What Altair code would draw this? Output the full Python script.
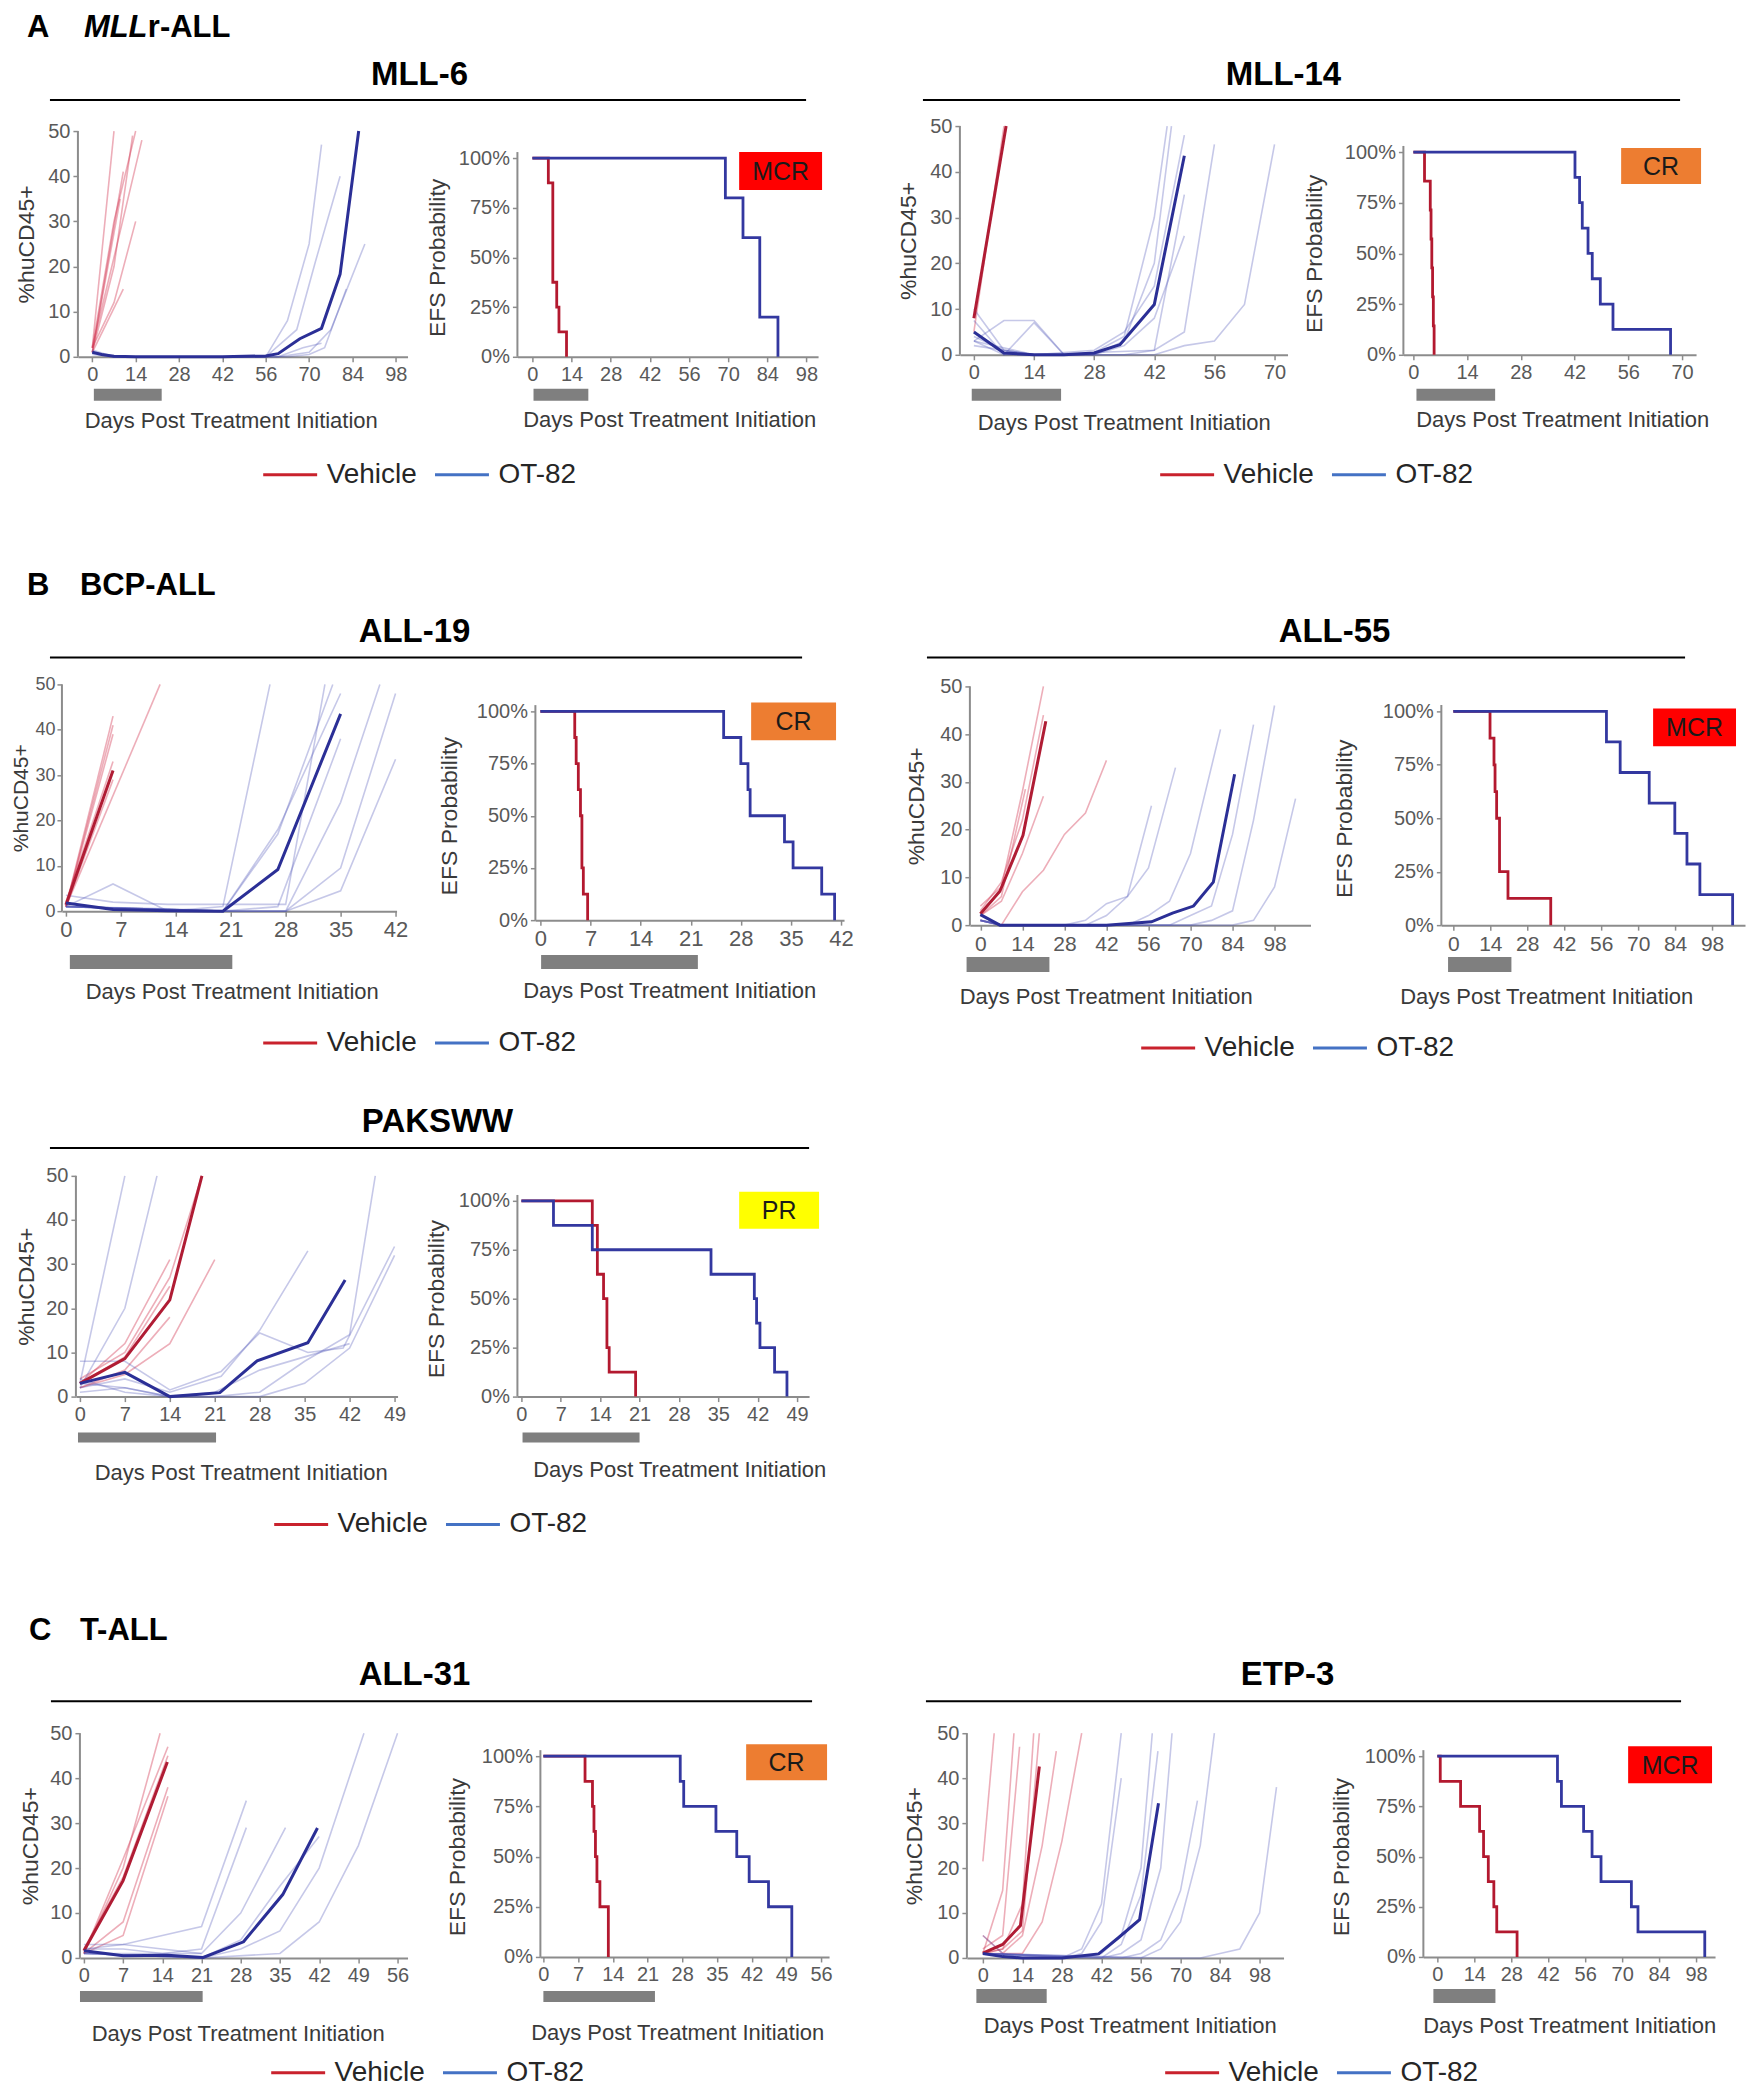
import altair as alt
import pandas as pd

# ---------------------------------------------------------------- data
# each line: list of [day, %huCD45+]; KM: list of [day, survival]
MLL6_VEH_FAINT = [
    [[0, 2], [7, 50]],
    [[0, 2], [7, 30], [14, 50]],
    [[0, 1], [7, 20], [13, 49]],
    [[0, 2], [7, 22], [16, 48]],
    [[0, 1], [10, 41]],
    [[0, 1], [9, 35]],
    [[0, 2], [7, 12], [14, 30]],
    [[0, 1], [10, 15]],
]
MLL6_VEH_BOLD = []
MLL6_OT_FAINT = [
    [[0, 1.5], [7, 0], [56, 0], [63, 8], [70, 25], [74, 47]],
    [[0, 1], [7, 0], [56, 0], [66, 6], [72, 21], [80, 40]],
    [[0, 1], [7, 0], [60, 0], [70, 1], [77, 6], [88, 25]],
    [[0, 1], [7, 0], [63, 0], [70, 0.5], [75, 2], [82, 15]],
    [[0, 0.5], [7, 0], [60, 0], [68, 2], [74, 3]],
]
MLL6_OT_BOLD = [[0, 1], [3, 0.5], [7, 0.1], [14, 0], [28, 0], [42, 0], [56, 0.2], [60, 0.7],
                [67, 4], [74, 6.3], [80, 18.3], [86, 50]]
MLL6_KM_VEH = [[0, 1], [5.7, 0.875], [7.3, 0.375], [8.7, 0.25], [9.5, 0.125], [12.2, 0]]
MLL6_KM_OT = [[0, 1], [69, 0.8], [75.3, 0.6], [81.3, 0.2], [87.8, 0]]
MLL6_TREAT_L = [0.5, 22.4]
MLL6_TREAT_K = [0.4, 20.0]

MLL14_VEH_FAINT = [[[0, 5], [7, 50]]]
MLL14_VEH_BOLD = [[0, 8], [7.5, 50]]
MLL14_OT_FAINT = [
    [[0, 3], [7, 7.5], [14, 7.5], [21, 0], [28, 0], [35, 3], [42, 20], [46, 50]],
    [[0, 7.5], [7, 0], [14, 7], [21, 0], [28, 0.5], [35, 4], [42, 30], [45, 50]],
    [[0, 10], [7, 1], [14, 0], [28, 1], [35, 5], [42, 15], [49, 48]],
    [[0, 4], [7, 1], [14, 0], [28, 0], [35, 2], [42, 8], [49, 26]],
    [[0, 3], [14, 0], [42, 0], [49, 2], [56, 3], [63, 11], [70, 46]],
    [[0, 2], [14, 0], [42, 1], [49, 5], [56, 46]],
    [[0, 3], [7, 0], [35, 0], [42, 1], [49, 35]],
]
MLL14_OT_BOLD = [[0, 5], [7, 0.4], [14, 0], [21, 0], [28, 0.4], [34, 2.2], [42, 11], [49, 43.5]]
MLL14_KM_VEH = [[0, 1], [2.9, 0.857], [4.4, 0.714], [4.6, 0.571], [4.8, 0.429], [5.0, 0.286],
                [5.2, 0.143], [5.4, 0]]
MLL14_KM_OT = [[0, 1], [42.1, 0.875], [43.3, 0.75], [44, 0.625], [45.5, 0.5], [46.6, 0.375],
               [48.7, 0.25], [52, 0.125], [67, 0]]
MLL14_TREAT_L = [-0.5, 20.3]
MLL14_TREAT_K = [0.8, 21.3]

ALL19_VEH_FAINT = [
    [[0, 1], [6, 43]], [[0, 1], [6, 41]], [[0, 1], [6, 39]],
    [[0, 1], [12, 50]], [[0, 1], [6, 29]], [[0, 2], [6, 33]],
]
ALL19_VEH_BOLD = [[0, 1.4], [6, 31]]
ALL19_OT_FAINT = [
    [[0, 1], [6, 6], [13, 0], [20, 1], [26, 50]],
    [[0, 3.5], [6, 2], [13, 1.5], [20, 1.5], [28, 1.5], [33, 50]],
    [[0, 1], [13, 0.5], [20, 0], [27, 17], [34, 50]],
    [[0, 1], [20, 0], [27, 18], [35, 48]],
    [[0, 1], [20, 0], [27, 1], [35, 38]],
    [[0, 1], [20, 0], [28, 0], [35, 24], [40, 50]],
    [[0, 1], [20, 0], [28, 0], [35, 9.5], [42, 48]],
    [[0, 1], [20, 0], [28, 0], [35, 4.5], [42, 33.5]],
]
ALL19_OT_BOLD = [[0, 1.8], [6, 0.35], [13, 0.1], [20, 0], [27, 9.2], [35, 43.5]]
ALL19_KM_VEH = [[0, 1], [4.8, 0.875], [5.0, 0.75], [5.3, 0.625], [5.6, 0.5], [5.8, 0.25],
                [6.0, 0.125], [6.6, 0]]
ALL19_KM_OT = [[0, 1], [25.6, 0.875], [28, 0.75], [29, 0.625], [29.3, 0.5], [34.1, 0.375],
               [35.3, 0.25], [39.3, 0.125], [41.1, 0]]
ALL19_TREAT_L = [0.5, 21.2]
ALL19_TREAT_K = [0.1, 22.0]

ALL55_VEH_FAINT = [
    [[0, 4], [7, 8], [14, 28], [21, 50]],
    [[0, 3], [7, 9], [14, 22], [21, 44]],
    [[0, 2], [7, 5], [14, 15], [21, 27]],
    [[0, 1], [7, 0], [14, 7], [21, 11.5], [28, 19], [35, 23.5], [42, 34.5]],
    [[0, 2], [7, 6], [15, 28.5]],
]
ALL55_VEH_BOLD = [[0, 2.4], [6.5, 7.1], [14.2, 18.8], [21.8, 42.7]]
ALL55_OT_FAINT = [
    [[0, 1], [7, 0], [28, 0], [35, 1], [42, 4.5], [49, 6], [57, 25]],
    [[0, 1], [7, 0], [35, 0], [42, 2], [49, 6], [56, 12], [65, 33]],
    [[0, 1], [7, 0], [49, 0], [56, 2], [63, 5], [70, 15], [80, 41]],
    [[0, 1], [7, 0], [63, 0], [70, 2], [77, 4], [84, 19], [91, 42]],
    [[0, 1], [7, 0], [70, 0], [77, 1], [84, 3], [91, 22], [98, 46]],
    [[0, 1], [7, 0], [84, 0], [91, 1], [98, 8], [105, 26.5]],
]
ALL55_OT_BOLD = [[0, 2.2], [6.5, 0], [14, 0], [28, 0], [42, 0], [57, 0.7], [64, 2.5], [71, 4],
                 [77.6, 9], [84.7, 31.6]]
ALL55_KM_VEH = [[0, 1], [13.9, 0.875], [15.4, 0.75], [15.8, 0.625], [16.4, 0.5], [17.5, 0.25],
                [20.7, 0.125], [36.9, 0]]
ALL55_KM_OT = [[0, 1], [58, 0.857], [63.2, 0.714], [74.2, 0.571], [83.9, 0.429], [88.5, 0.286],
               [93.4, 0.143], [105.8, 0]]
ALL55_TREAT_L = [-4.6, 23.0]
ALL55_TREAT_K = [-2.0, 22.0]

PAK_VEH_FAINT = [
    [[0, 3], [7, 12], [14, 31]],
    [[0, 4], [7, 10], [14, 27], [19, 50]],
    [[0, 2], [7, 5], [14, 12], [21, 31]],
    [[0, 3], [7, 9], [14, 25]],
    [[0, 2], [7, 6], [14, 18]],
]
PAK_VEH_BOLD = [[0, 3], [7, 8.6], [14, 21.9], [19, 50]]
PAK_OT_FAINT = [
    [[0, 3], [7, 50]],
    [[0, 2], [7, 20], [12, 50]],
    [[0, 8], [7, 8], [14, 1.5], [22, 5.7], [28, 14.4], [35.5, 10], [41, 11], [49, 34]],
    [[0, 3], [7, 2], [14, 0], [21, 0], [28, 1], [35, 8], [42, 14], [46, 50]],
    [[0, 2], [7, 4], [14, 1], [22, 4.6], [28, 15], [35.5, 33]],
    [[0, 4], [7, 1], [14, 0], [21, 0], [28, 0], [35, 3], [42, 11], [49, 32]],
    [[0, 1], [7, 2], [14, 0], [21, 1], [28, 6], [35, 9], [42, 12]],
]
PAK_OT_BOLD = [[0, 3], [7, 5.5], [14, 0], [21.8, 0.9], [27.6, 8.1], [35.5, 12.2], [41.3, 26.4]]
PAK_KM_VEH = [[0, 1], [12.6, 0.875], [13.5, 0.625], [14.6, 0.5], [15.2, 0.25], [15.6, 0.125],
              [20.3, 0]]
PAK_KM_OT = [[0, 1], [5.7, 0.875], [12.6, 0.75], [33.7, 0.625], [41.4, 0.5], [41.8, 0.375],
             [42.4, 0.25], [45, 0.125], [47.2, 0]]
PAK_TREAT_L = [-0.3, 21.2]
PAK_TREAT_K = [0.2, 21.0]

ALL31_VEH_FAINT = [
    [[0, 1], [7, 20], [13.6, 50]],
    [[0, 1], [7, 22], [15, 47]],
    [[0, 1], [7, 8], [15, 38]],
    [[0, 1], [7, 5], [15, 36]],
    [[0, 2], [7, 18], [15, 45]],
]
ALL31_VEH_BOLD = [[0, 1.6], [7, 17.2], [14.9, 43.6]]
ALL31_OT_FAINT = [
    [[0, 2], [7, 3], [14, 5], [21, 7], [29, 35]],
    [[0, 2], [7, 2], [14, 1], [21, 2], [29, 29]],
    [[0, 1], [14, 1], [21, 1], [28, 10], [36, 29]],
    [[0, 1], [21, 0], [28, 4], [35, 16], [42, 27]],
    [[0, 1], [21, 0], [28, 2], [35, 6], [42, 20], [50, 50]],
    [[0, 1], [21, 0], [35, 1], [42, 8], [49, 25], [56, 50]],
    [[0, 3], [7, 3], [14, 2], [21, 1]],
]
ALL31_OT_BOLD = [[0, 1.6], [7, 0.5], [14.9, 0.6], [21.3, 0.1], [28.5, 3.6], [35.5, 14.1],
                 [41.7, 28.9]]
ALL31_KM_VEH = [[0, 1], [8.4, 0.875], [9.9, 0.75], [10.2, 0.625], [10.5, 0.5], [10.8, 0.375],
                [11.4, 0.25], [13.1, 0]]
ALL31_KM_OT = [[0, 1], [27.6, 0.875], [28.3, 0.75], [34.8, 0.625], [39, 0.5], [41.5, 0.375],
               [45.4, 0.25], [50.1, 0]]
ALL31_TREAT_L = [-0.7, 21.2]
ALL31_TREAT_K = [0.0, 22.5]

ETP3_VEH_FAINT = [
    [[0, 21.5], [4, 50]],
    [[0, 1], [7, 15], [11, 50]],
    [[0, 2], [7, 5], [13, 47]],
    [[0, 1], [7, 2], [14, 12], [18, 50]],
    [[0, 1], [7, 2], [14, 6], [20, 50]],
    [[0, 5], [7, 1], [14, 5], [21, 25], [26, 46]],
    [[0, 1], [14, 1], [21, 8], [28, 26], [35, 50]],
]
ETP3_VEH_BOLD = [[0, 1.1], [7, 3], [13.3, 7.2], [20, 42.6]]
ETP3_OT_FAINT = [
    [[0, 5], [7, 1], [14, 0], [28, 0], [35, 2], [42, 12], [49, 50]],
    [[0, 1], [28, 0], [35, 1], [42, 8], [49, 40]],
    [[0, 1], [35, 0], [42, 1], [49, 5], [56, 20], [60, 50]],
    [[0, 1], [42, 0], [49, 3], [56, 14], [62, 46]],
    [[0, 1], [42, 0], [49, 1], [56, 4], [63, 20], [67, 50]],
    [[0, 1], [49, 0], [56, 1], [63, 4], [70, 15], [76, 35]],
    [[0, 1], [56, 0], [63, 2], [70, 8], [77, 25], [82, 50]],
    [[0, 1], [63, 0], [77, 0], [84, 1], [91, 2], [98, 10], [104, 38]],
]
ETP3_OT_BOLD = [[0, 1], [7, 0.3], [14, 0], [28, 0], [41, 0.9], [48, 4.5], [55.5, 8.5], [62.2, 34.4]]
ETP3_KM_VEH = [[0, 1], [1.1, 0.875], [8.8, 0.75], [16, 0.625], [17.5, 0.5], [19.3, 0.375],
               [21.4, 0.25], [22.5, 0.125], [30.2, 0]]
ETP3_KM_OT = [[0, 1], [45.5, 0.875], [47, 0.75], [55.4, 0.625], [58.6, 0.5], [62, 0.375],
              [73.5, 0.25], [76, 0.125], [101.3, 0]]
ETP3_TREAT_L = [-2.3, 22.6]
ETP3_TREAT_K = [-1.5, 22.0]

GROUP_NAMES = ["Vehicle", "OT-82"]
RESPONSE = {"MLL-6": "MCR", "MLL-14": "CR", "ALL-19": "CR", "ALL-55": "MCR",
            "PAKSWW": "PR", "ALL-31": "CR", "ETP-3": "MCR"}

PANELS = {
    "MLL-6": (MLL6_VEH_FAINT, MLL6_VEH_BOLD, MLL6_OT_FAINT, MLL6_OT_BOLD, MLL6_KM_VEH, MLL6_KM_OT, MLL6_TREAT_L, MLL6_TREAT_K),
    "MLL-14": (MLL14_VEH_FAINT, MLL14_VEH_BOLD, MLL14_OT_FAINT, MLL14_OT_BOLD, MLL14_KM_VEH, MLL14_KM_OT, MLL14_TREAT_L, MLL14_TREAT_K),
    "ALL-19": (ALL19_VEH_FAINT, ALL19_VEH_BOLD, ALL19_OT_FAINT, ALL19_OT_BOLD, ALL19_KM_VEH, ALL19_KM_OT, ALL19_TREAT_L, ALL19_TREAT_K),
    "ALL-55": (ALL55_VEH_FAINT, ALL55_VEH_BOLD, ALL55_OT_FAINT, ALL55_OT_BOLD, ALL55_KM_VEH, ALL55_KM_OT, ALL55_TREAT_L, ALL55_TREAT_K),
    "PAKSWW": (PAK_VEH_FAINT, PAK_VEH_BOLD, PAK_OT_FAINT, PAK_OT_BOLD, PAK_KM_VEH, PAK_KM_OT, PAK_TREAT_L, PAK_TREAT_K),
    "ALL-31": (ALL31_VEH_FAINT, ALL31_VEH_BOLD, ALL31_OT_FAINT, ALL31_OT_BOLD, ALL31_KM_VEH, ALL31_KM_OT, ALL31_TREAT_L, ALL31_TREAT_K),
    "ETP-3": (ETP3_VEH_FAINT, ETP3_VEH_BOLD, ETP3_OT_FAINT, ETP3_OT_BOLD, ETP3_KM_VEH, ETP3_KM_OT, ETP3_TREAT_L, ETP3_TREAT_K),
}

# ---------------------------------------------------------------- layout (page pixels)
LAYOUT = {
    "MLL-6": dict(
        L=dict(left=78, right=408, zero=92.4, last=396.3, lastday=98, step=14, top=130, bottom=356, bary=(388, 400), xt=(231, 420), yt=27, fs=20),
        K=dict(left=518, right=819, zero=533, last=807.4, lastday=98, step=14, top=157, bottom=356, bary=(388, 400), xt=(670, 419), yt=438, fs=20),
        title=(420, 74), rule=(50, 807, 99), badge=(740, 823, 151, 189), legend=(262, 474)),
    "MLL-14": dict(
        L=dict(left=961, right=1289, zero=975, last=1276, lastday=70, step=14, top=125, bottom=354, bary=(388, 400), xt=(1125, 422), yt=910, fs=20),
        K=dict(left=1405, right=1698, zero=1415, last=1684, lastday=70, step=14, top=151, bottom=354, bary=(388, 400), xt=(1564, 419), yt=1316, fs=20),
        title=(1285, 74), rule=(924, 1682, 99), badge=(1623, 1703, 147, 183), legend=(1160, 474)),
    "ALL-19": dict(
        L=dict(left=62, right=397, zero=66, last=396, lastday=42, step=7, top=684, bottom=911, bary=(955, 969), xt=(232, 991), yt=22, fs=22, yfs=18, ytfs=21, lp=2),
        K=dict(left=536, right=845, zero=541, last=842, lastday=42, step=7, top=711, bottom=920, bary=(955, 969), xt=(670, 990), yt=450, fs=22),
        title=(415, 632), rule=(50, 803, 657), badge=(752, 837, 702, 740), legend=(262, 1043)),
    "ALL-55": dict(
        L=dict(left=971, right=1312, zero=981.5, last=1276, lastday=98, step=14, top=686, bottom=925, bary=(957, 972), xt=(1107, 996), yt=918, fs=21),
        K=dict(left=1443, right=1747, zero=1455, last=1714, lastday=98, step=14, top=711, bottom=925, bary=(957, 972), xt=(1548, 996), yt=1346, fs=21),
        title=(1336, 632), rule=(928, 1687, 657), badge=(1655, 1738, 708, 746), legend=(1141, 1048)),
    "PAKSWW": dict(
        L=dict(left=76, right=398, zero=80, last=395, lastday=49, step=7, top=1176, bottom=1397, bary=(1433, 1443), xt=(241, 1473), yt=27, fs=20),
        K=dict(left=518, right=810, zero=522, last=798, lastday=49, step=7, top=1201, bottom=1397, bary=(1433, 1443), xt=(680, 1470), yt=437, fs=20),
        title=(438, 1122), rule=(50, 810, 1148), badge=(740, 820, 1192, 1229), legend=(273, 1525)),
    "ALL-31": dict(
        L=dict(left=80, right=408, zero=84, last=398, lastday=56, step=7, top=1734, bottom=1959, bary=(1992, 2003), xt=(238, 2035), yt=31, fs=20),
        K=dict(left=541, right=830, zero=544, last=822, lastday=56, step=7, top=1757, bottom=1958, bary=(1992, 2003), xt=(678, 2034), yt=458, fs=20),
        title=(415, 1676), rule=(51, 813, 1702), badge=(747, 828, 1745, 1781), legend=(270, 2074)),
    "ETP-3": dict(
        L=dict(left=968, right=1285, zero=984, last=1261, lastday=98, step=14, top=1734, bottom=1959, bary=(1990, 2004), xt=(1131, 2027), yt=916, fs=20),
        K=dict(left=1425, right=1717, zero=1439, last=1698, lastday=98, step=14, top=1757, bottom=1958, bary=(1990, 2004), xt=(1571, 2027), yt=1343, fs=20),
        title=(1289, 1676), rule=(927, 1683, 1702), badge=(1630, 1714, 1747, 1784), legend=(1165, 2074)),
}
ROWS = [["MLL-6", "MLL-14"], ["ALL-19", "ALL-55"], ["PAKSWW"], ["ALL-31", "ETP-3"]]
ROW_TOP = [125, 684, 1176, 1734]
PAGE_TOP = 8                     # top edge of the drawing (page px)
COL_X = [0, 440, 880, 1350]      # grid column origins (chart px = page px - 8)
COL_W = [440, 440, 470, 390]
SECTIONS = {
    "MLL-6": (27, [("A", 27, "normal"), ("MLL", 84, "italic"), ("r-ALL", 148, "normal")]),
    "ALL-19": (585, [("B", 27, "normal"), ("BCP-ALL", 80, "normal")]),
    "ALL-31": (1632, [("C", 29, "normal"), ("T-ALL", 80, "normal")]),
}

FONT = "Liberation Sans"
XTITLE = "Days Post Treatment Initiation"
VEH_FAINT_C, OT_FAINT_C = "#D2344F", "#4E54B8"
VEH_BOLD_C, OT_BOLD_C = "#B01C34", "#2B2F96"
KM_VEH_C, KM_OT_C = "#B3192F", "#3338A0"
LEG_VEH_C, LEG_OT_C = "#C9222D", "#4472C4"
AXIS_C, BAR_C = "#8C8C8C", "#7F7F7F"
BADGE_C = {"MCR": "#FF0000", "CR": "#ED7D31", "PR": "#FFFF00"}

ONE = pd.DataFrame({"a": [0]})


def line_df(groups):
    rows = []
    for grp, kind, lines in groups:
        for i, ln in enumerate(lines):
            for j, (d, v) in enumerate(ln):
                rows.append({"grp": grp, "kind": kind, "id": f"{grp}|{kind}|{i}", "o": j, "day": d, "val": v})
    return pd.DataFrame(rows, columns=["grp", "kind", "id", "o", "day", "val"])


def vtext(txt, x, y, size, weight="normal", style="normal", align="center", color="#000"):
    return alt.Chart(ONE).mark_text(fontSize=size, fontWeight=weight, fontStyle=style, align=align,
                                    baseline="middle", color=color, font=FONT).encode(
        x=alt.value(x), y=alt.value(y), text=alt.value(txt))


def hrule(x1, x2, y, color="#000", w=2):
    return alt.Chart(ONE).mark_rule(color=color, strokeWidth=w).encode(
        x=alt.value(x1), x2=alt.value(x2), y=alt.value(y))


def spacer(w, h):
    return alt.Chart(ONE).mark_rect(opacity=0).encode(
        x=alt.value(0), x2=alt.value(1), y=alt.value(0), y2=alt.value(1)).properties(width=w, height=h)


def frame(c, T, ox, top_val):
    """scales for a plot whose cell origin is page x=ox, page y=T"""
    left_page = int(round(c["left"]))
    W = int(round(c["right"] - c["left"]))
    a = left_page - ox
    ppd = (c["last"] - c["zero"]) / c["lastday"]
    x0 = (left_page - c["zero"]) / ppd
    x1 = x0 + W / ppd
    H = int(round(c["bottom"] - T))
    top_rel = c["top"] - T
    ymax = top_val * H / (H - top_rel)
    xs = alt.Scale(domain=[x0, x1], range=[a, a + W], nice=False, zero=False)
    ys = alt.Scale(domain=[0, ymax], nice=False, zero=False)
    return a, W, H, top_rel, xs, ys, left_page


def axes(c, T, ox, a, left_page, H, top_rel, yvalues, ytitle, yfmt=None):
    common = dict(labelFont=FONT, labelColor="#595959", tickColor=AXIS_C,
                  tickSize=5, tickWidth=1.5, grid=False, titleFont=FONT, titleFontWeight="normal",
                  titleColor="#3A3A3A", labelOverlap=False, labelFlush=False)
    xax = alt.Axis(values=list(range(0, c["lastday"] + 1, c["step"])), title=XTITLE,
                   titleX=c["xt"][0] - ox, titleY=c["xt"][1] - (T + H), titleAlign="center",
                   titleBaseline="middle", titleFontSize=22, labelFontSize=c["fs"], labelPadding=3,
                   domainColor=AXIS_C, domainWidth=2, **common)
    yk = dict(values=yvalues, title=ytitle, titleX=c["yt"] - left_page, titleY=(top_rel + H) / 2,
              titleAngle=270, titleAlign="center", titleBaseline="middle",
              titleFontSize=c.get("ytfs", 23), labelFontSize=c.get("yfs", 20),
              labelPadding=c.get("lp", 3), domain=False, offset=-a, **common)
    if yfmt:
        yk["format"] = yfmt
    return xax, alt.Axis(**yk)


def make_left(name, T, ox, cw):
    lay = LAYOUT[name]
    c = lay["L"]
    vf, vb, of, ob, _, _, tl, _ = PANELS[name]
    a, W, H, top_rel, xs, ys, left_page = frame(c, T, ox, 50.0)
    xax, yax = axes(c, T, ox, a, left_page, H, top_rel, [0, 10, 20, 30, 40, 50], "%huCD45+")
    X = alt.X("day:Q", scale=xs, axis=xax)
    Y = alt.Y("val:Q", scale=ys, axis=yax)
    df = line_df([("Vehicle", "faint", vf), ("Vehicle", "bold", [vb] if vb else []),
                  ("OT-82", "faint", of), ("OT-82", "bold", [ob] if ob else [])])
    layers = []
    for kind, grp, col, sw, op in [("faint", "Vehicle", VEH_FAINT_C, 1.6, 0.4),
                                   ("faint", "OT-82", OT_FAINT_C, 1.6, 0.32),
                                   ("bold", "Vehicle", VEH_BOLD_C, 3.0, 1.0),
                                   ("bold", "OT-82", OT_BOLD_C, 3.0, 1.0)]:
        sub = df[(df.kind == kind) & (df.grp == grp)]
        if len(sub) == 0:
            continue
        layers.append(alt.Chart(sub).mark_line(color=col, strokeWidth=sw, opacity=op).encode(
            x=X, y=Y, detail="id:N", order="o:Q"))
    layers.append(alt.Chart(ONE).mark_rule(color=AXIS_C, strokeWidth=2).encode(
        x=alt.value(a), y=alt.datum(0), y2=alt.datum(50)))
    bar = pd.DataFrame({"s": [tl[0]], "e": [tl[1]]})
    layers.append(alt.Chart(bar).mark_rect(color=BAR_C).encode(
        x=alt.X("s:Q", scale=xs, axis=xax), x2="e:Q",
        y=alt.value(c["bary"][0] - T), y2=alt.value(c["bary"][1] - T)))
    lx, ly = lay["legend"]
    layers.append(alt.Chart(df.head(2)).transform_filter("false").mark_line(strokeWidth=3).encode(
        x=X, y=Y,
        color=alt.Color("grp:N", scale=alt.Scale(domain=GROUP_NAMES, range=[LEG_VEH_C, LEG_OT_C]),
                        legend=alt.Legend(orient="none", legendX=lx - ox, legendY=ly - T - 15,
                                          direction="horizontal", title=None, symbolType="stroke",
                                          symbolSize=2916, symbolStrokeWidth=3, clipHeight=30,
                                          labelFont=FONT, labelFontSize=28, labelColor="#262626",
                                          columnPadding=16, labelOffset=8, symbolOpacity=1))))
    tx, ty = lay["title"]
    layers.append(vtext(name, tx - ox, ty - T, 33, weight="bold"))
    r1, r2, ry = lay["rule"]
    layers.append(hrule(r1 - ox, r2 - ox, ry - T))
    if name in SECTIONS:
        sy, parts = SECTIONS[name]
        for txt, sx, style in parts:
            layers.append(vtext(txt, sx - ox, sy - T, 31, weight="bold", style=style, align="left"))
        if name == ROWS[0][0]:
            # invisible anchor marking the top edge of the drawing
            layers.append(alt.Chart(ONE).mark_rect(opacity=0).encode(
                x=alt.value(0), x2=alt.value(1), y=alt.value(PAGE_TOP - T), y2=alt.value(PAGE_TOP - T + 1)))
    return alt.layer(*layers).properties(width=cw, height=H), H


def make_km(name, T, ox, cw):
    lay = LAYOUT[name]
    c = lay["K"]
    _, _, _, _, kv, ko, _, tk = PANELS[name]
    a, W, H, top_rel, xs, ys, left_page = frame(c, T, ox, 1.0)
    xax, yax = axes(c, T, ox, a, left_page, H, top_rel, [0, 0.25, 0.5, 0.75, 1.0],
                    "EFS Probability", ".0%")
    X = alt.X("day:Q", scale=xs, axis=xax)
    Y = alt.Y("surv:Q", scale=ys, axis=yax)
    layers = []
    for pts, col in [(kv, KM_VEH_C), (ko, KM_OT_C)]:
        d = pd.DataFrame({"day": [p[0] for p in pts], "surv": [p[1] for p in pts],
                          "o": list(range(len(pts)))})
        layers.append(alt.Chart(d).mark_line(color=col, strokeWidth=2.8, interpolate="step-after").encode(
            x=X, y=Y, order="o:Q"))
    layers.append(alt.Chart(ONE).mark_rule(color=AXIS_C, strokeWidth=2).encode(
        x=alt.value(a), y=alt.datum(0), y2=alt.datum(1.03)))
    bar = pd.DataFrame({"s": [tk[0]], "e": [tk[1]]})
    layers.append(alt.Chart(bar).mark_rect(color=BAR_C).encode(
        x=alt.X("s:Q", scale=xs, axis=xax), x2="e:Q",
        y=alt.value(c["bary"][0] - T), y2=alt.value(c["bary"][1] - T)))
    bx1, bx2, by1, by2 = lay["badge"]
    resp = RESPONSE[name]
    layers.append(alt.Chart(ONE).mark_rect(color=BADGE_C[resp]).encode(
        x=alt.value(bx1 - ox), x2=alt.value(bx2 - ox),
        y=alt.value(by1 - T), y2=alt.value(by2 - T)))
    layers.append(vtext(resp, (bx1 + bx2) / 2 - ox, (by1 + by2) / 2 - T + 1, 25, color="#1A1A1A"))
    return alt.layer(*layers).properties(width=cw, height=H), H


cells = []
NCOL = 4
for ri, names in enumerate(ROWS):
    T = ROW_TOP[ri]
    row_cells = []
    heights = []
    col = 0
    for name in names:
        for kind in ("L", "K"):
            ox = COL_X[col] + 8
            maker = make_left if kind == "L" else make_km
            ch, H = maker(name, T, ox, COL_W[col])
            row_cells.append(ch)
            heights.append(H)
            col += 1
    while len(row_cells) < NCOL:
        row_cells.append(spacer(1, 1))
    cells += row_cells
    if ri < len(ROWS) - 1:
        gap = ROW_TOP[ri + 1] - (T + max(heights))
        cells.append(spacer(1, gap))
        cells += [spacer(1, 1) for _ in range(NCOL - 1)]

chart = alt.concat(
    *cells, columns=NCOL, spacing=0, bounds="flush", align="each",
).resolve_scale(color="independent").resolve_legend(color="independent").properties(
    padding=0).configure_view(stroke=None)

chart.save("out.html", embed_options={"renderer": "svg", "actions": False})
